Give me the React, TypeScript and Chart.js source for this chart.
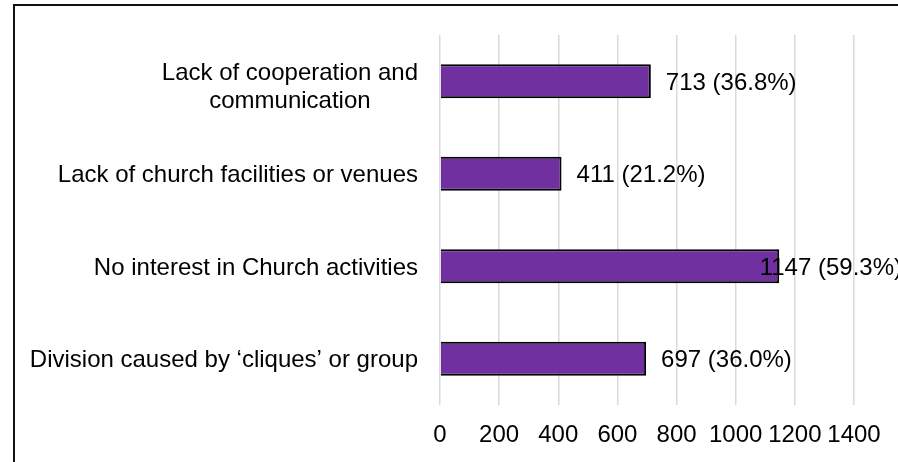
import React, { useEffect, useRef } from "react";
import { Chart, registerables } from "chart.js";

Chart.register(...registerables);

const categories: (string | string[])[] = [
  ["Lack of cooperation and", "communication"],
  "Lack of church facilities or venues",
  "No interest in Church activities",
  "Division caused by \u2018cliques\u2019 or group",
];
const counts = [713, 411, 1147, 697];
const percents = [36.8, 21.2, 59.3, 36.0];
const xTicks = [0, 200, 400, 600, 800, 1000, 1200, 1400];

const FONT = '"Liberation Sans", Arial, sans-serif';
const FONT_SIZE = 24;

const categoryLabelPlugin = {
  id: "categoryLabels",
  afterDraw(chart: any) {
    const ctx = chart.ctx;
    const yScale = chart.scales.y;
    ctx.save();
    ctx.font = `${FONT_SIZE}px ${FONT}`;
    ctx.fillStyle = "#000";
    ctx.textBaseline = "middle";
    ctx.textAlign = "center";
    const lh = FONT_SIZE * 1.17;
    const rightEdge = yScale.right - 22;
    categories.forEach((cat, i) => {
      const lines = Array.isArray(cat) ? cat : [cat];
      const maxW = Math.max(...lines.map((l) => ctx.measureText(l).width));
      const cx = rightEdge - maxW / 2;
      const py = yScale.getPixelForValue(i) + (lines.length > 1 ? 4 : 0);
      const y0 = py - ((lines.length - 1) * lh) / 2;
      lines.forEach((l, j) => ctx.fillText(l, cx, y0 + j * lh + 2));
    });
    ctx.restore();
  },
};

const valueLabelPlugin = {
  id: "valueLabels",
  afterDatasetsDraw(chart: any) {
    const ctx = chart.ctx;
    const meta = chart.getDatasetMeta(0);
    ctx.save();
    ctx.font = `${FONT_SIZE}px ${FONT}`;
    ctx.fillStyle = "#000";
    ctx.textBaseline = "middle";
    ctx.textAlign = "left";
    meta.data.forEach((el: any, i: number) => {
      const text = `${counts[i]} (${percents[i].toFixed(1)}%)`;
      const w = ctx.measureText(text).width;
      let x = el.x + 15;
      const limit = chart.width + 4;
      if (x + w > limit) x = limit - w;
      ctx.fillText(text, x, el.y + 2);
    });
    ctx.restore();
  },
};

export default function App() {
  const canvasRef = useRef<HTMLCanvasElement | null>(null);

  useEffect(() => {
    if (!canvasRef.current) return;
    const chart = new Chart(canvasRef.current, {
      type: "bar",
      data: {
        labels: categories as any,
        datasets: [
          {
            data: counts,
            backgroundColor: "#7030A0",
            borderColor: "#000000",
            borderWidth: 2,
            barPercentage: 0.37,
            categoryPercentage: 1,
          },
        ],
      },
      options: {
        indexAxis: "y",
        responsive: false,
        animation: false,
        layout: { padding: { top: 35, right: 44, left: 0, bottom: 0 } },
        plugins: {
          legend: { display: false },
          tooltip: { enabled: false },
          title: { display: false },
        },
        scales: {
          x: {
            min: 0,
            max: 1400,
            afterBuildTicks(scale: any) {
              scale.ticks = xTicks.map((v) => ({ value: v }));
            },
            afterFit(scale: any) {
              scale.height = 57;
              scale.paddingLeft = 0;
              scale.paddingRight = 0;
            },
            grid: { color: "#d9d9d9", lineWidth: 1.5, drawTicks: false },
            border: { display: false },
            ticks: {
              color: "#000",
              font: { family: FONT, size: FONT_SIZE },
              padding: 16,
              maxRotation: 0,
              autoSkip: false,
              callback: (v: any) => String(v),
            },
          },
          y: {
            afterFit(scale: any) {
              scale.width = 440;
            },
            grid: { display: false },
            border: { display: false },
            ticks: { display: false },
          },
        },
      },
      plugins: [categoryLabelPlugin, valueLabelPlugin],
    });
    return () => chart.destroy();
  }, []);

  return (
    <div style={{ position: "fixed", inset: 0, overflow: "hidden", background: "#fff" }}>
      <div
        style={{
          position: "absolute",
          left: 13,
          top: 4,
          width: 1000,
          height: 600,
          border: "2px solid #111",
        }}
      />
      <canvas
        ref={canvasRef}
        width={898}
        height={462}
        style={{ position: "absolute", left: 0, top: 0, width: 898, height: 462 }}
      />
    </div>
  );
}
